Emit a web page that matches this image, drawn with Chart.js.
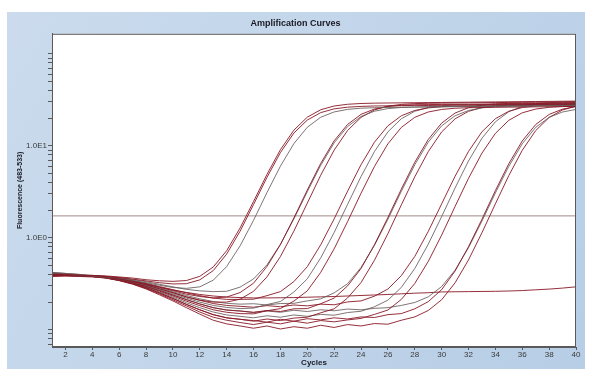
<!DOCTYPE html>
<html>
<head>
<meta charset="utf-8">
<script src="https://cdn.jsdelivr.net/npm/chart.js@4.4.1/dist/chart.umd.min.js"></script>
<style>
  html, body { margin: 0; padding: 0; background: #fff; }
  #wrap { position: relative; width: 590px; height: 369px; }
</style>
</head>
<body>
<div id="wrap"><canvas id="chart" width="590" height="369"></canvas></div>
<script>
// cycles 1..40
const cycles = [1,2,3,4,5,6,7,8,9,10,11,12,13,14,15,16,17,18,19,20,21,22,23,24,25,26,27,28,29,30,31,32,33,34,35,36,37,38,39,40];
const xTickValues = [2,4,6,8,10,12,14,16,18,20,22,24,26,28,30,32,34,36,38,40];
const yTickValues = [0.07,0.08,0.09,0.1,0.2,0.3,0.4,0.5,0.6,0.7,0.8,0.9,1,2,3,4,5,6,7,8,9,10,20,30,40,50,60,70,80,90,100];
const yTickLabels = { 1: '1.0E0', 10: '1.0E1' };
const threshold = 1.73;

// fluorescence per cycle
const s1a = [0.40,0.40,0.39,0.39,0.38,0.37,0.355,0.34,0.325,0.315,0.317,0.349,0.44,0.665,1.18,2.3,4.54,8.43,13.75,19.05,22.95,25.2,26.3,26.8,27.1,27.2,27.3,27.5,27.4,27.6,27.8,27.7,27.9,28.0,28.1,28.0,28.2,28.3,28.4,28.6];
const s1b = [0.41,0.40,0.39,0.385,0.375,0.365,0.345,0.325,0.305,0.288,0.282,0.293,0.346,0.487,0.818,1.55,3.10,6.01,10.55,15.9,20.43,23.34,24.88,25.62,25.96,26.1,26.2,26.3,26.4,26.5,26.6,26.7,26.8,26.9,27.0,27.1,27.2,27.3,27.4,27.5];
const s1c = [0.38,0.39,0.39,0.39,0.385,0.375,0.365,0.35,0.341,0.336,0.343,0.381,0.481,0.724,1.28,2.48,4.89,9.07,14.78,20.47,24.66,27.08,28.28,28.84,29.08,29.2,29.3,29.4,29.5,29.6,29.7,29.8,29.9,30.0,30.1,30.2,30.3,30.4,30.5,30.6];
const s2a = [0.40,0.395,0.39,0.385,0.375,0.36,0.34,0.316,0.29,0.266,0.244,0.23,0.222,0.227,0.254,0.321,0.488,0.844,1.64,3.30,6.43,11.33,17.07,21.97,25.1,26.76,27.56,27.92,28.07,28.15,28.2,28.3,28.4,28.5,28.6,28.7,28.8,28.9,29.0,29.1];
const s2b = [0.42,0.41,0.40,0.39,0.38,0.368,0.352,0.333,0.312,0.293,0.275,0.265,0.26,0.262,0.291,0.357,0.508,0.849,1.60,3.17,6.14,10.77,16.2,20.83,23.79,25.36,26.12,26.46,26.61,26.7,26.8,26.9,27.0,27.1,27.2,27.3,27.4,27.5,27.6,27.7];
const s2c = [0.39,0.39,0.385,0.38,0.37,0.356,0.334,0.308,0.279,0.253,0.228,0.21,0.20,0.20,0.215,0.262,0.376,0.625,1.18,2.38,4.79,8.97,14.68,20.37,24.56,26.98,28.18,28.74,28.98,29.1,29.2,29.3,29.4,29.5,29.6,29.7,29.8,29.9,30.0,30.1];
const s3a = [0.40,0.40,0.39,0.385,0.377,0.362,0.343,0.32,0.295,0.273,0.252,0.235,0.221,0.214,0.214,0.215,0.235,0.26,0.334,0.485,0.839,1.605,3.21,6.23,10.95,16.49,21.21,24.23,25.83,26.6,26.95,27.1,27.2,27.25,27.3,27.4,27.5,27.6,27.7,27.8];
const s3b = [0.39,0.39,0.385,0.38,0.37,0.354,0.331,0.303,0.273,0.246,0.221,0.2,0.184,0.175,0.17,0.172,0.188,0.203,0.257,0.358,0.605,1.14,2.31,4.63,8.66,14.18,19.68,23.72,26.05,27.21,27.75,28.0,28.1,28.2,28.3,28.4,28.5,28.6,28.7,28.8];
const s3c = [0.41,0.40,0.39,0.383,0.37,0.35,0.325,0.295,0.263,0.233,0.205,0.183,0.165,0.155,0.15,0.149,0.161,0.17,0.205,0.265,0.421,0.758,1.50,3.05,5.96,10.5,15.85,20.39,23.3,24.84,25.6,25.94,26.1,26.2,26.3,26.4,26.5,26.6,26.7,26.8];
const s4a = [0.40,0.395,0.39,0.383,0.371,0.352,0.328,0.299,0.268,0.239,0.213,0.191,0.174,0.164,0.16,0.155,0.162,0.158,0.169,0.17,0.192,0.221,0.30,0.463,0.842,1.66,3.38,6.62,11.69,17.64,22.71,25.96,27.67,28.5,28.88,29.05,29.15,29.25,29.35,29.45];
const s4b = [0.41,0.40,0.395,0.385,0.375,0.358,0.337,0.312,0.285,0.259,0.236,0.217,0.203,0.194,0.19,0.192,0.186,0.193,0.194,0.206,0.217,0.252,0.317,0.476,0.826,1.59,3.2,6.22,10.94,16.48,21.2,24.22,25.82,26.6,26.95,27.1,27.2,27.3,27.4,27.5];
const s4c = [0.39,0.39,0.385,0.38,0.368,0.346,0.319,0.287,0.252,0.219,0.189,0.165,0.146,0.135,0.13,0.124,0.131,0.126,0.134,0.137,0.153,0.169,0.222,0.326,0.57,1.11,2.28,4.6,8.63,14.15,19.65,23.7,26.03,27.2,27.75,28.0,28.1,28.2,28.3,28.4];
const s5a = [0.40,0.396,0.391,0.385,0.374,0.356,0.334,0.308,0.279,0.253,0.228,0.209,0.193,0.184,0.18,0.176,0.183,0.178,0.186,0.182,0.19,0.187,0.201,0.206,0.232,0.277,0.388,0.627,1.17,2.34,4.66,8.69,14.2,19.7,23.74,26.07,27.23,27.8,28.05,28.2];
const s5b = [0.42,0.41,0.40,0.385,0.369,0.348,0.322,0.291,0.257,0.226,0.197,0.174,0.156,0.145,0.14,0.135,0.142,0.137,0.145,0.14,0.147,0.144,0.154,0.159,0.178,0.21,0.289,0.463,0.85,1.70,3.48,6.84,12.08,18.24,23.48,26.84,28.62,29.47,29.86,30.03];
const s5c = [0.38,0.385,0.385,0.38,0.366,0.344,0.316,0.282,0.246,0.212,0.182,0.156,0.137,0.127,0.12,0.114,0.121,0.116,0.124,0.118,0.126,0.122,0.128,0.133,0.147,0.164,0.214,0.319,0.552,1.07,2.19,4.43,8.32,13.64,18.94,22.84,25.09,26.21,26.73,26.96];
const s6a = [0.40,0.40,0.39,0.381,0.368,0.346,0.319,0.287,0.252,0.219,0.189,0.165,0.146,0.135,0.13,0.126,0.121,0.13,0.124,0.132,0.128,0.135,0.131,0.138,0.136,0.146,0.15,0.169,0.202,0.273,0.435,0.80,1.59,3.26,6.39,11.29,17.03,21.93,25.06,26.72];
const s6b = [0.41,0.40,0.39,0.383,0.371,0.352,0.328,0.299,0.268,0.239,0.213,0.191,0.174,0.164,0.16,0.154,0.16,0.155,0.163,0.158,0.165,0.161,0.168,0.165,0.171,0.174,0.184,0.198,0.228,0.295,0.445,0.78,1.52,3.07,5.98,10.52,15.86,20.4,23.31,24.85];
const s6c = [0.39,0.385,0.38,0.375,0.365,0.342,0.313,0.278,0.24,0.206,0.174,0.148,0.127,0.116,0.11,0.104,0.11,0.102,0.108,0.104,0.112,0.106,0.114,0.11,0.117,0.115,0.127,0.138,0.162,0.212,0.324,0.575,1.135,2.34,4.75,8.93,14.64,20.33,24.52,26.94];
const ntc = [0.40,0.395,0.39,0.383,0.372,0.355,0.335,0.312,0.29,0.27,0.255,0.242,0.233,0.227,0.224,0.222,0.222,0.223,0.224,0.226,0.228,0.23,0.233,0.236,0.239,0.242,0.246,0.25,0.253,0.258,0.259,0.26,0.261,0.262,0.264,0.267,0.272,0.277,0.284,0.293];

const series = [s1a, s1b, s1c, s2a, s2b, s2c, s3a, s3b, s3c, s4a, s4b, s4c, s5a, s5b, s5c, s6a, s6b, s6c, ntc];

const RED = 'rgba(138, 24, 38, 0.9)';
const GREY = 'rgba(105, 92, 92, 0.85)';

const datasets = series.map((vals, i) => ({
    data: vals.map((v, j) => ({ x: cycles[j], y: v })),
    borderColor: i % 3 === 1 ? GREY : RED,
    borderWidth: 1,
    pointRadius: 0,
    tension: 0,
    fill: false
}));

// threshold line
datasets.push({
    data: [{ x: cycles[0], y: threshold }, { x: cycles[cycles.length - 1], y: threshold }],
    borderColor: '#a08a88',
    borderWidth: 1,
    pointRadius: 0,
    fill: false
});

// blue panel + white plot box
const panel = {
    id: 'panel',
    beforeDraw(chart) {
        const { ctx, chartArea: a } = chart;
        ctx.save();
        ctx.fillStyle = '#fff';
        ctx.fillRect(0, 0, chart.width, chart.height);
        const g = ctx.createLinearGradient(7, 12, 585, 369);
        g.addColorStop(0, '#cbdbed');
        g.addColorStop(1, '#b7cee6');
        ctx.fillStyle = g;
        ctx.fillRect(7, 12, 578, 357);
        ctx.fillStyle = '#fff';
        ctx.fillRect(a.left, a.top, a.right - a.left, a.bottom - a.top);
        ctx.restore();
    },
    afterDraw(chart) {
        const { ctx, chartArea: a } = chart;
        ctx.save();
        ctx.strokeStyle = '#5a5a5a';
        ctx.lineWidth = 1;
        ctx.strokeRect(a.left + 0.5, a.top + 0.5, a.right - a.left - 1, a.bottom - a.top - 1);
        ctx.restore();
    }
};

const FONT = 'Liberation Sans, Arial, sans-serif';

new Chart(document.getElementById('chart'), {
    type: 'line',
    data: { datasets },
    plugins: [panel],
    options: {
        responsive: false,
        animation: false,
        layout: { padding: { left: 15, right: 14, top: 14, bottom: 0 } },
        plugins: {
            legend: { display: false },
            tooltip: { enabled: false },
            title: {
                display: true,
                text: 'Amplification Curves',
                color: '#1a1a24',
                font: { family: FONT, size: 9, weight: 'bold' },
                padding: { top: 4, bottom: 5 }
            }
        },
        scales: {
            x: {
                type: 'linear',
                min: 1,
                max: 40,
                afterBuildTicks: s => { s.ticks = xTickValues.map(v => ({ value: v })); },
                afterFit: s => { s.height = 22; },
                ticks: {
                    autoSkip: false,
                    maxRotation: 0,
                    padding: 0,
                    color: '#3a3a3a',
                    font: { family: FONT, size: 8 }
                },
                grid: { drawOnChartArea: false, tickLength: 3, color: '#5a5a5a' },
                border: { color: '#5a5a5a' },
                title: {
                    display: true,
                    text: 'Cycles',
                    color: '#1a1a24',
                    font: { family: FONT, size: 8, weight: 'bold' },
                    padding: { top: 0, bottom: 1 }
                }
            },
            y: {
                type: 'logarithmic',
                min: 0.065,
                max: 165,
                afterBuildTicks: s => { s.ticks = yTickValues.map(v => ({ value: v })); },
                afterFit: s => { s.width = 37; },
                ticks: {
                    autoSkip: false,
                    padding: 1,
                    color: '#3a3a3a',
                    font: { family: FONT, size: 8 },
                    callback: v => yTickLabels[v] || ''
                },
                grid: { drawOnChartArea: false, tickLength: 4, color: '#5a5a5a' },
                border: { color: '#5a5a5a' },
                title: {
                    display: true,
                    text: 'Fluorescence (483-533)',
                    color: '#1a1a24',
                    font: { family: FONT, size: 7, weight: 'bold' },
                    padding: { top: 1, bottom: 0 }
                }
            }
        }
    }
});
</script>
</body>
</html>
